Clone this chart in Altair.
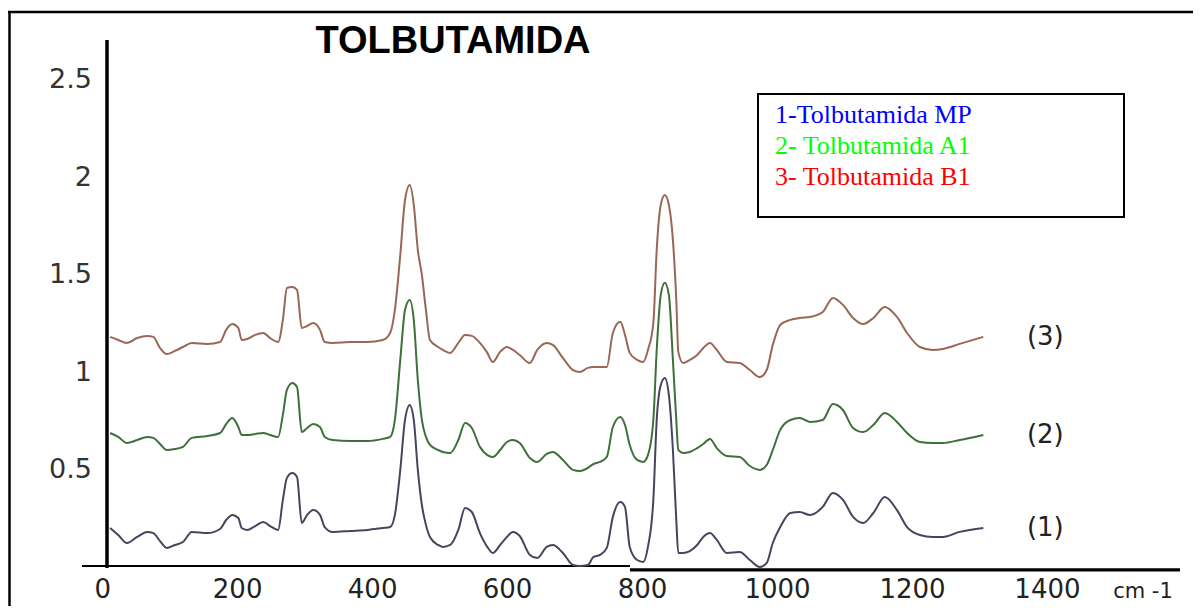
import altair as alt
import pandas as pd

# ---- data ----
wavenumber = [11, 23, 36, 51, 66, 75, 85, 95, 107, 119,
              132, 155, 174, 183, 192, 201, 206, 214, 226, 238,
              248, 260, 267, 273, 281, 288, 295, 303, 312, 322,
              329, 341, 367, 392, 415, 426, 433, 441, 448, 455,
              461, 467, 473, 479, 485, 497, 504, 515, 527, 537,
              547, 559, 570, 578, 589, 599, 608, 618, 633, 644,
              658, 667, 682, 697, 707, 719, 727, 737, 747, 756,
              767, 774, 781, 792, 801, 808, 816, 821, 827, 833,
              839, 845, 850, 853, 860, 870, 881, 890, 900, 910,
              925, 944, 959, 974, 984, 993, 1004, 1019, 1033, 1048,
              1067, 1082, 1097, 1112, 1127, 1142, 1159, 1177, 1192, 1211,
              1230, 1245, 1270, 1305]

abs_mp = [0.205, 0.169, 0.128, 0.159, 0.185, 0.179, 0.138, 0.103, 0.118, 0.133,
          0.185, 0.179, 0.200, 0.246, 0.272, 0.256, 0.205, 0.195, 0.215, 0.236,
          0.215, 0.195, 0.349, 0.462, 0.487, 0.467, 0.231, 0.272, 0.297, 0.272,
          0.210, 0.185, 0.190, 0.195, 0.205, 0.210, 0.272, 0.503, 0.759, 0.836,
          0.759, 0.503, 0.323, 0.221, 0.159, 0.118, 0.108, 0.118, 0.195, 0.308,
          0.287, 0.179, 0.108, 0.077, 0.118, 0.159, 0.185, 0.164, 0.067, 0.051,
          0.108, 0.118, 0.077, 0.015, 0.010, 0.015, 0.056, 0.067, 0.103, 0.262,
          0.338, 0.313, 0.108, 0.041, 0.031, 0.108, 0.349, 0.759, 0.938, 0.974,
          0.887, 0.605, 0.246, 0.077, 0.077, 0.087, 0.118, 0.159, 0.179, 0.144,
          0.077, 0.082, 0.041, 0.005, 0.026, 0.128, 0.210, 0.282, 0.287, 0.272,
          0.313, 0.385, 0.349, 0.262, 0.231, 0.282, 0.364, 0.297, 0.210, 0.169,
          0.159, 0.159, 0.185, 0.205]

abs_a1 = [0.692, 0.672, 0.641, 0.656, 0.672, 0.667, 0.636, 0.605, 0.610, 0.621,
          0.667, 0.677, 0.692, 0.738, 0.769, 0.723, 0.682, 0.682, 0.687, 0.692,
          0.682, 0.672, 0.785, 0.913, 0.949, 0.928, 0.697, 0.718, 0.738, 0.723,
          0.672, 0.656, 0.651, 0.651, 0.662, 0.672, 0.759, 1.067, 1.323, 1.374,
          1.272, 0.964, 0.759, 0.672, 0.631, 0.605, 0.595, 0.590, 0.656, 0.744,
          0.718, 0.621, 0.579, 0.569, 0.605, 0.646, 0.656, 0.641, 0.564, 0.544,
          0.585, 0.595, 0.554, 0.503, 0.497, 0.513, 0.533, 0.544, 0.569, 0.723,
          0.774, 0.733, 0.631, 0.554, 0.544, 0.579, 0.759, 1.118, 1.400, 1.462,
          1.400, 1.067, 0.759, 0.605, 0.590, 0.595, 0.615, 0.636, 0.662, 0.615,
          0.574, 0.569, 0.523, 0.503, 0.528, 0.605, 0.708, 0.759, 0.769, 0.749,
          0.759, 0.841, 0.810, 0.718, 0.697, 0.733, 0.795, 0.749, 0.692, 0.646,
          0.641, 0.641, 0.656, 0.682]

abs_b1 = [1.185, 1.169, 1.154, 1.179, 1.190, 1.185, 1.128, 1.097, 1.113, 1.133,
          1.154, 1.149, 1.159, 1.221, 1.251, 1.231, 1.169, 1.174, 1.195, 1.205,
          1.179, 1.159, 1.272, 1.436, 1.441, 1.426, 1.231, 1.241, 1.256, 1.221,
          1.159, 1.154, 1.159, 1.159, 1.169, 1.205, 1.323, 1.605, 1.887, 1.964,
          1.862, 1.631, 1.503, 1.323, 1.169, 1.133, 1.118, 1.103, 1.154, 1.195,
          1.190, 1.154, 1.103, 1.056, 1.108, 1.133, 1.118, 1.092, 1.051, 1.118,
          1.154, 1.144, 1.077, 1.015, 1.005, 1.026, 1.031, 1.031, 1.031, 1.205,
          1.262, 1.195, 1.103, 1.067, 1.056, 1.118, 1.256, 1.631, 1.862, 1.913,
          1.862, 1.682, 1.374, 1.108, 1.051, 1.067, 1.092, 1.128, 1.154, 1.118,
          1.056, 1.051, 1.015, 0.979, 1.015, 1.144, 1.246, 1.272, 1.282, 1.287,
          1.313, 1.385, 1.349, 1.282, 1.251, 1.282, 1.338, 1.287, 1.205, 1.133,
          1.118, 1.123, 1.149, 1.185]

series_names = ["MP", "A1", "B1"]
series_tags = ["(1)", "(2)", "(3)"]
series_colors = ["#45455f", "#3f6f3a", "#9a6656"]

legend_labels = ["1-Tolbutamida MP", "2- Tolbutamida A1", "3- Tolbutamida B1"]
legend_colors = ["#0000FF", "#00FF00", "#FF0000"]

x_tick_values = [0, 200, 400, 600, 800, 1000, 1200, 1400]
y_tick_values = [0.5, 1, 1.5, 2, 2.5]
y_tick_labels = ["0.5", "1", "1.5", "2", "2.5"]

# ---- tables ----
rows = []
for name, vals in zip(series_names, [abs_mp, abs_a1, abs_b1]):
    for w, a in zip(wavenumber, vals):
        rows.append({"wn": w, "absorb": a, "series": name})
lines_df = pd.DataFrame(rows)

ends_df = pd.DataFrame({
    "wn": [wavenumber[-1]] * 3,
    "absorb": [abs_mp[-1], abs_a1[-1], abs_b1[-1]],
    "tag": series_tags,
})

xt_df = pd.DataFrame({"wn": x_tick_values, "label": [str(v) for v in x_tick_values]})
yt_df = pd.DataFrame({"absorb": y_tick_values, "label": y_tick_labels})

W, H = 1185, 594
xscale = alt.Scale(domain=[-140.3, 1615.7], nice=False, zero=False)
yscale = alt.Scale(domain=[-0.195, 2.851], nice=False, zero=False)

X = lambda f: alt.X(f, type="quantitative", scale=xscale, axis=None)
Y = lambda f: alt.Y(f, type="quantitative", scale=yscale, axis=None)

# frame (top and left edges)
frame_top = alt.Chart(pd.DataFrame({"a": [0]})).mark_rule(color="black", strokeWidth=2.5).encode(
    x=alt.value(0), x2=alt.value(W), y=alt.value(0))
frame_left = alt.Chart(pd.DataFrame({"a": [0]})).mark_rule(color="black", strokeWidth=2.5).encode(
    x=alt.value(1.5), y=alt.value(0), y2=alt.value(H))

# axes lines
axis_df = pd.DataFrame({"x1": [6.4], "y1": [0.0], "y2": [2.708]})
y_axis = alt.Chart(axis_df).mark_rule(color="black", strokeWidth=3.5).encode(
    x=X("x1"), y=Y("y1"), y2="y2")
xaxis_df = pd.DataFrame({"x1": [-30.7, 781.4], "x2": [781.4, 1596.5], "yy": [0.010, -0.010],
                         "sw": ["a", "b"]})
x_axis = alt.Chart(xaxis_df).mark_rule(color="black").encode(
    x=X("x1"), x2="x2", y=Y("yy"),
    strokeWidth=alt.StrokeWidth("sw:N", scale=alt.Scale(domain=["a", "b"], range=[2, 3.2]), legend=None))

# tick labels
y_labels = alt.Chart(yt_df).mark_text(align="right", baseline="middle", font="DejaVu Sans",
                                       fontSize=27, color="#333333").encode(
    x=alt.value(84), y=Y("absorb"), text="label:N")
x_labels = alt.Chart(xt_df).mark_text(align="center", baseline="alphabetic", font="DejaVu Sans",
                                       fontSize=26, color="#222222").encode(
    x=X("wn"), y=alt.value(586), text="label:N")
unit = alt.Chart(pd.DataFrame({"t": ["cm -1"]})).mark_text(
    align="center", baseline="alphabetic", font="DejaVu Sans", fontSize=21, color="#222222").encode(
    x=alt.value(1135), y=alt.value(586), text="t:N")

# spectra
curves = alt.Chart(lines_df).mark_line(strokeWidth=2, interpolate="monotone").encode(
    x=X("wn"), y=Y("absorb"),
    color=alt.Color("series:N", scale=alt.Scale(domain=series_names, range=series_colors), legend=None),
    detail="series:N")

tags = alt.Chart(ends_df).mark_text(align="center", baseline="middle", font="DejaVu Sans",
                                     fontSize=26, color="#222222", dx=62).encode(
    x=X("wn"), y=Y("absorb"), text="tag:N")

# title
title = alt.Chart(pd.DataFrame({"t": ["TOLBUTAMIDA"]})).mark_text(
    align="center", baseline="middle", font="Liberation Sans", fontWeight="bold",
    fontSize=38, color="black").encode(x=alt.value(445), y=alt.value(30), text="t:N")

# legend box
box = alt.Chart(pd.DataFrame({"a": [0]})).mark_rect(fill="white", stroke="black", strokeWidth=2).encode(
    x=alt.value(750), x2=alt.value(1116), y=alt.value(82), y2=alt.value(205))
legend_rows = []
for i, (lab, col) in enumerate(zip(legend_labels, legend_colors)):
    legend_rows.append(
        alt.Chart(pd.DataFrame({"t": [lab]})).mark_text(
            align="left", baseline="alphabetic", font="Liberation Serif", fontSize=26, color=col).encode(
            x=alt.value(767), y=alt.value(111 + 31 * i), text="t:N"))

chart = alt.layer(
    frame_top, frame_left, x_axis, y_axis, curves, y_labels, x_labels, unit, tags, title, box,
    *legend_rows
).properties(
    width=W, height=H,
    autosize=alt.AutoSizeParams(type="none"),
    padding={"left": 0, "top": 4, "right": 0, "bottom": 0},
).configure_view(stroke=None)

chart.save("out.html", embed_options={"renderer": "svg", "actions": False})
